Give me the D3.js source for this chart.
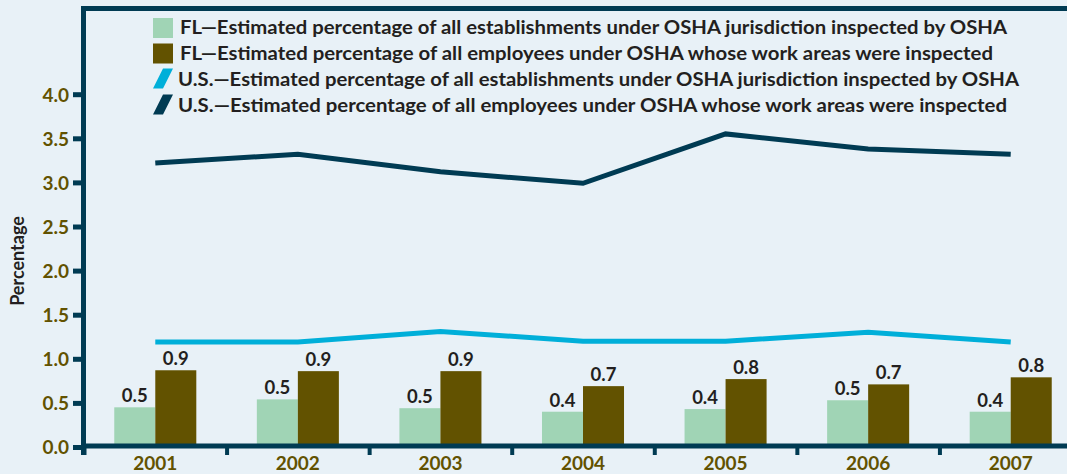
<!DOCTYPE html>
<html>
<head>
<meta charset="utf-8">
<script src="https://cdn.jsdelivr.net/npm/d3@7"></script>
<style>
    body { margin: 0; background: #e8f1f7; }
    svg text { font-family: Lato, 'Open Sans', sans-serif; font-weight: 700; }
</style>
</head>
<body>
<div id="plot"></div>
<script>
// Data
let years = ['2001', '2002', '2003', '2004', '2005', '2006', '2007'];
let flEst = [0.45, 0.54, 0.44, 0.40, 0.43, 0.53, 0.40];
let flEmp = [0.87, 0.86, 0.86, 0.69, 0.77, 0.71, 0.79];
let flEstLabels = ['0.5', '0.5', '0.5', '0.4', '0.4', '0.5', '0.4'];
let flEmpLabels = ['0.9', '0.9', '0.9', '0.7', '0.8', '0.7', '0.8'];
let usEst = [1.19, 1.19, 1.31, 1.20, 1.20, 1.30, 1.19];
let usEmp = [3.22, 3.32, 3.12, 2.99, 3.55, 3.38, 3.32];
let yTicks = [0, 0.5, 1.0, 1.5, 2.0, 2.5, 3.0, 3.5, 4.0];
let legendLabels = [
    'FL\u2014Estimated percentage of all establishments under OSHA jurisdiction inspected by OSHA',
    'FL\u2014Estimated percentage of all employees under OSHA whose work areas were inspected',
    'U.S.\u2014Estimated percentage of all establishments under OSHA jurisdiction inspected by OSHA',
    'U.S.\u2014Estimated percentage of all employees under OSHA whose work areas were inspected'
];

let svgWidth = 1067;
let svgHeight = 474;

let colors = {
    bg: '#e8f1f7',
    navy: '#003b53',
    cyan: '#00afd9',
    green: '#a0d4b5',
    olive: '#625200',
    text: '#231f20'
};

let $svg = d3.select('#plot')
    .append('svg')
    .attr('width', svgWidth)
    .attr('height', svgHeight);

$svg.append('rect')
    .attr('width', svgWidth)
    .attr('height', svgHeight)
    .attr('fill', colors.bg);

// Scales
let xBand = d3.scaleBand()
    .domain(years)
    .range([84, 1082]);

let xSub = d3.scaleBand()
    .domain(['est', 'emp'])
    .range([0, xBand.bandwidth()])
    .paddingOuter(0.738);

let xEdge = d3.scaleLinear()
    .domain([0, years.length])
    .range([84, 1082]);

let yScale = d3.scaleLinear()
    .domain([0, 4])
    .range([447, 94.2]);

// Bars
let barData = years.map((y, i) => ({ year: y, est: flEst[i], emp: flEmp[i], estL: flEstLabels[i], empL: flEmpLabels[i] }));

let barGroup = $svg.append('g');

barGroup.selectAll('rect.est')
    .data(barData)
    .enter()
    .append('rect')
    .attr('x', d => xBand(d.year) + xSub('est'))
    .attr('y', d => yScale(d.est))
    .attr('width', xSub.bandwidth())
    .attr('height', d => yScale(0) - yScale(d.est))
    .attr('fill', colors.green);

barGroup.selectAll('rect.emp')
    .data(barData)
    .enter()
    .append('rect')
    .attr('x', d => xBand(d.year) + xSub('emp'))
    .attr('y', d => yScale(d.emp))
    .attr('width', xSub.bandwidth())
    .attr('height', d => yScale(0) - yScale(d.emp))
    .attr('fill', colors.olive);

// Bar value labels
barGroup.selectAll('text.est')
    .data(barData)
    .enter()
    .append('text')
    .attr('x', d => xBand(d.year) + xSub('est') + xSub.bandwidth() / 2)
    .attr('y', d => yScale(d.est) - 5)
    .attr('text-anchor', 'middle')
    .attr('font-size', '18.5px')
    .attr('fill', colors.text)
    .text(d => d.estL);

barGroup.selectAll('text.emp')
    .data(barData)
    .enter()
    .append('text')
    .attr('x', d => xBand(d.year) + xSub('emp') + xSub.bandwidth() / 2)
    .attr('y', d => yScale(d.emp) - 5)
    .attr('text-anchor', 'middle')
    .attr('font-size', '18.5px')
    .attr('fill', colors.text)
    .text(d => d.empL);

// Lines
let lineGen = d3.line()
    .x((d, i) => xBand(years[i]) + xBand.bandwidth() / 2)
    .y(d => yScale(d));

$svg.append('path')
    .datum(usEst)
    .attr('d', lineGen)
    .attr('fill', 'none')
    .attr('stroke', colors.cyan)
    .attr('stroke-width', 5);

$svg.append('path')
    .datum(usEmp)
    .attr('d', lineGen)
    .attr('fill', 'none')
    .attr('stroke', colors.navy)
    .attr('stroke-width', 5);

// Y axis
let leftAxis = d3.axisLeft(yScale)
    .tickValues(yTicks)
    .tickFormat(d3.format('.1f'))
    .tickSize(11)
    .tickPadding(4);

let yAxisG = $svg.append('g')
    .attr('transform', 'translate(84, 0)')
    .call(leftAxis);

yAxisG.select('.domain').remove();
yAxisG.selectAll('line')
    .attr('stroke', colors.navy)
    .attr('stroke-width', 5);
yAxisG.selectAll('text')
    .attr('font-size', '19px')
    .attr('fill', colors.olive)
    .attr('dy', '0.36em');

// X axis ticks at band edges
let edgeAxis = d3.axisBottom(xEdge)
    .tickValues(d3.range(years.length + 1))
    .tickFormat('')
    .tickSize(9);

let xEdgeG = $svg.append('g')
    .attr('transform', 'translate(0, 446)')
    .call(edgeAxis);

xEdgeG.select('.domain').remove();
xEdgeG.selectAll('line')
    .attr('stroke', colors.navy)
    .attr('stroke-width', 4);

// X axis labels
let bottomAxis = d3.axisBottom(xBand)
    .tickSize(0)
    .tickPadding(0);

let xAxisG = $svg.append('g')
    .attr('transform', 'translate(0, 456)')
    .call(bottomAxis);

xAxisG.select('.domain').remove();
xAxisG.selectAll('text')
    .attr('font-size', '19px')
    .attr('fill', colors.olive)
    .attr('dy', '0.72em');

// Frame lines
$svg.append('line')
    .attr('x1', 81).attr('x2', svgWidth)
    .attr('y1', 446).attr('y2', 446)
    .attr('stroke', colors.navy)
    .attr('stroke-width', 5);

$svg.append('line')
    .attr('x1', 83.5).attr('x2', 83.5)
    .attr('y1', 6).attr('y2', 455)
    .attr('stroke', colors.navy)
    .attr('stroke-width', 5);

$svg.append('line')
    .attr('x1', 81).attr('x2', svgWidth)
    .attr('y1', 8.5).attr('y2', 8.5)
    .attr('stroke', colors.navy)
    .attr('stroke-width', 5);

// Y axis title
$svg.append('text')
    .attr('transform', 'translate(24, 261) rotate(-90)')
    .attr('text-anchor', 'middle')
    .attr('font-size', '18px')
    .attr('fill', colors.text)
    .text('Percentage');

// Legend
let legend = $svg.append('g');
let legendY = [34, 60, 86, 111.5];
let legendX = [180, 180, 178, 178];
let legendW = [827, 813, 841, 829];

legend.append('rect')
    .attr('x', 153).attr('y', 18).attr('width', 20).attr('height', 20)
    .attr('fill', colors.green);
legend.append('rect')
    .attr('x', 153).attr('y', 43.5).attr('width', 20).attr('height', 20)
    .attr('fill', colors.olive);
legend.append('path')
    .attr('d', 'M163,68.5L173,68.5L163,88.5L153,88.5Z')
    .attr('fill', colors.cyan);
legend.append('path')
    .attr('d', 'M163,94.5L173,94.5L163,114.5L153,114.5Z')
    .attr('fill', colors.navy);

legend.selectAll('text')
    .data(legendLabels)
    .enter()
    .append('text')
    .attr('x', (d, i) => legendX[i])
    .attr('y', (d, i) => legendY[i])
    .attr('font-size', '19px')
    .attr('textLength', (d, i) => legendW[i])
    .attr('lengthAdjust', 'spacingAndGlyphs')
    .attr('fill', colors.text)
    .text(d => d);
</script>
</body>
</html>
